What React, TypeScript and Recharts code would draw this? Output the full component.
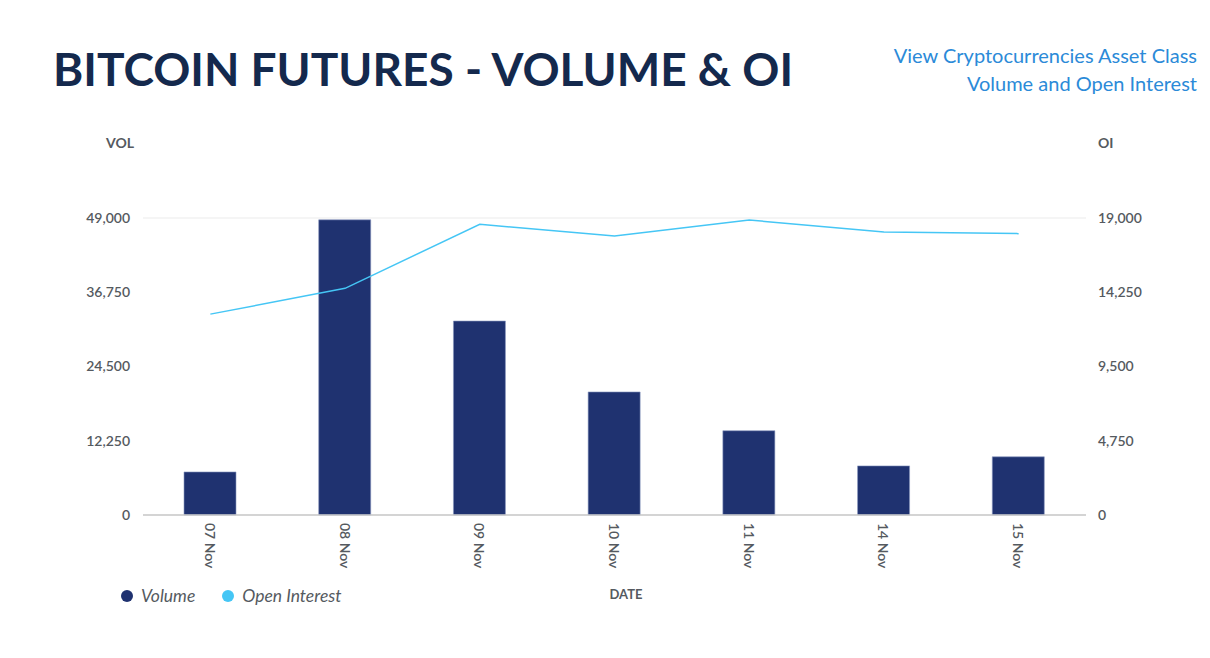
import React from 'react';
import { ComposedChart, Bar, Line, XAxis, YAxis, CartesianGrid, Legend, Label } from 'recharts';

const dates = ['07 Nov', '08 Nov', '09 Nov', '10 Nov', '11 Nov', '14 Nov', '15 Nov'];
const volume = [7100, 48700, 32000, 20300, 13900, 8100, 9600];
const openInterest = [12850, 14500, 18600, 17850, 18870, 18100, 18000];
const volTicks = [0, 12250, 24500, 36750, 49000];
const oiTicks = [0, 4750, 9500, 14250, 19000];

const data = dates.map((d, i) => ({ date: d, volume: volume[i], oi: openInterest[i] }));

const FONT = 'Lato, "Open Sans", sans-serif';
const NAVY = '#1f3270';
const SKY = '#45c6f5';
const GRAYTEXT = '#555a60';

const fmt = (v: number) => v.toLocaleString('en-US');

const XTick = (props: any) => {
  const { x, y, payload } = props;
  return (
    <text
      x={x}
      y={y + 8}
      transform={`rotate(90, ${x}, ${y + 8})`}
      textAnchor="start"
      dominantBaseline="central"
      fill={GRAYTEXT}
      fontSize={14}
      fontFamily={FONT}
      fontWeight={600}
    >
      {payload.value}
    </text>
  );
};

const LegendContent = () => (
  <div style={{ display: 'flex', alignItems: 'center', fontFamily: FONT, fontStyle: 'italic', fontSize: 17.5, color: GRAYTEXT }}>
    <span style={{ display: 'inline-block', width: 12, height: 12, borderRadius: 6, background: NAVY, marginRight: 8 }} />
    <span style={{ marginRight: 27 }}>Volume</span>
    <span style={{ display: 'inline-block', width: 12, height: 12, borderRadius: 6, background: SKY, marginRight: 8 }} />
    <span>Open Interest</span>
  </div>
);

export default function App() {
  return (
    <div style={{ position: 'absolute', left: 0, top: 0, width: 1210, height: 658, background: '#fff', fontFamily: FONT }}>
      <div
        style={{
          position: 'absolute',
          left: 53,
          top: 39,
          fontSize: 46,
          fontWeight: 700,
          color: '#14294d',
          whiteSpace: 'nowrap',
          lineHeight: '60px',
        }}
      >
        BITCOIN FUTURES - VOLUME &amp; OI
      </div>
      <div
        style={{
          position: 'absolute',
          right: 13,
          top: 41,
          textAlign: 'right',
          fontSize: 20,
          color: '#2b8ad8',
          lineHeight: '28px',
          whiteSpace: 'nowrap',
        }}
      >
        View Cryptocurrencies Asset Class
        <br />
        Volume and Open Interest
      </div>
      <div style={{ position: 'absolute', left: 0, top: 0 }}>
        <ComposedChart width={1210} height={658} data={data} margin={{ top: 218, right: 0, left: 0, bottom: 83 }}>
          <CartesianGrid vertical={false} stroke="#ececec" strokeWidth={1.2} />
          <XAxis
            dataKey="date"
            height={60}
            tick={<XTick />}
            tickLine={false}
            tickSize={0}
            tickMargin={0}
            interval={0}
            axisLine={{ stroke: '#c8c8c8', strokeWidth: 1.5 }}
          >
            <Label
              content={() => (
                <text x={626} y={599} textAnchor="middle" fill={GRAYTEXT} fontSize={13} fontFamily={FONT} fontWeight={700}>
                  DATE
                </text>
              )}
            />
          </XAxis>
          <YAxis
            yAxisId="vol"
            orientation="left"
            width={143}
            domain={[0, 49000]}
            ticks={volTicks}
            tickFormatter={fmt}
            axisLine={false}
            tickLine={false}
            tickSize={0}
            tickMargin={13}
            tick={{ fill: GRAYTEXT, fontSize: 14, fontFamily: FONT, fontWeight: 600 }}
            interval={0}
          >
            <Label
              content={() => (
                <text x={120} y={148} textAnchor="middle" fill={GRAYTEXT} fontSize={14} fontFamily={FONT} fontWeight={700}>
                  VOL
                </text>
              )}
            />
          </YAxis>
          <YAxis
            yAxisId="oi"
            orientation="right"
            width={124}
            domain={[0, 19000]}
            ticks={oiTicks}
            tickFormatter={fmt}
            axisLine={false}
            tickLine={false}
            tickSize={0}
            tickMargin={12}
            tick={{ fill: GRAYTEXT, fontSize: 14, fontFamily: FONT, fontWeight: 600 }}
            interval={0}
          >
            <Label
              content={() => (
                <text x={1098} y={148} textAnchor="start" fill={GRAYTEXT} fontSize={14} fontFamily={FONT} fontWeight={700}>
                  OI
                </text>
              )}
            />
          </YAxis>
          <Bar yAxisId="vol" dataKey="volume" name="Volume" fill={NAVY} stroke="#8a97c0" strokeWidth={0.6} barSize={52} isAnimationActive={false} />
          <Line
            yAxisId="oi"
            dataKey="oi"
            name="Open Interest"
            type="linear"
            stroke={SKY}
            strokeWidth={1.5}
            dot={false}
            activeDot={false}
            isAnimationActive={false}
          />
          <Legend
            layout="horizontal"
            verticalAlign="middle"
            align="center"
            content={<LegendContent />}
            wrapperStyle={{ position: 'absolute', left: 121, top: 585, width: 'auto' }}
          />
        </ComposedChart>
      </div>
    </div>
  );
}
